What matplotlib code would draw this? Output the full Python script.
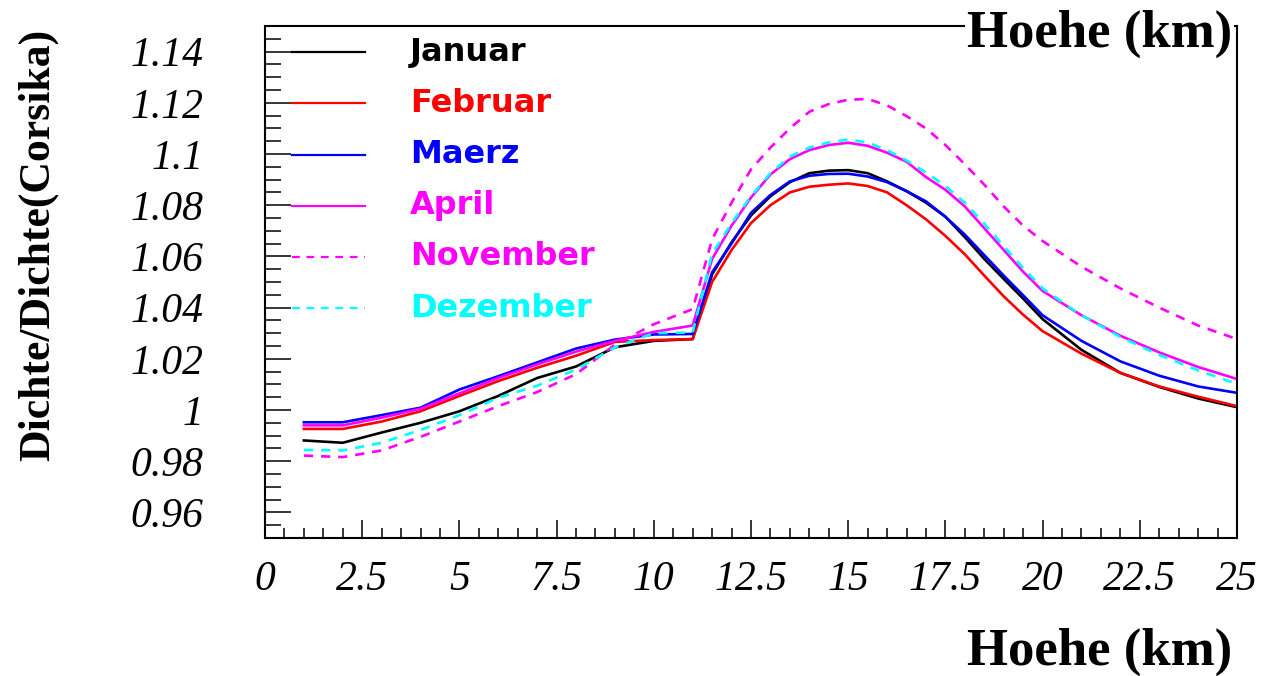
import matplotlib
matplotlib.use("Agg")
import matplotlib.pyplot as plt
from matplotlib.ticker import MultipleLocator, FuncFormatter

# Hoehe (km) stuetzstellen
hoehe = [1, 2, 3, 4, 5, 6, 7, 8, 9, 10, 11, 11.5, 12, 12.5, 13, 13.5, 14, 14.5,
         15, 15.5, 16, 16.5, 17, 17.5, 18, 18.5, 19, 19.5, 20, 21, 22, 23, 24, 25]

# Dichte/Dichte(Corsika) pro Monat
januar = [0.9881, 0.9872, 0.9912, 0.9950, 0.9995, 1.0055, 1.0125, 1.0170, 1.0245, 1.0270, 1.0277,
          1.0530, 1.0655, 1.0760, 1.0835, 1.0890, 1.0925, 1.0935,
          1.0937, 1.0925, 1.0893, 1.0855, 1.0810, 1.0755, 1.0675, 1.0590, 1.0512, 1.0435,
          1.0355, 1.0235, 1.0145, 1.0090, 1.0045, 1.0011]
februar = [0.9926, 0.9926, 0.9955, 0.9995, 1.0055, 1.0113, 1.0165, 1.0212, 1.0266, 1.0273, 1.0277,
           1.0500, 1.0625, 1.0730, 1.0800, 1.0850, 1.0872, 1.0880,
           1.0885, 1.0875, 1.0850, 1.0800, 1.0745, 1.0680, 1.0608, 1.0525, 1.0444, 1.0372,
           1.0308, 1.0220, 1.0145, 1.0092, 1.0052, 1.0015]
maerz = [0.9952, 0.9952, 0.9980, 1.0009, 1.0080, 1.0132, 1.0186, 1.0240, 1.0275, 1.0295, 1.0297,
         1.0538, 1.0650, 1.0770, 1.0840, 1.0893, 1.0915, 1.0922,
         1.0923, 1.0912, 1.0890, 1.0855, 1.0815, 1.0755, 1.0685, 1.0605, 1.0525, 1.0448,
         1.0370, 1.0270, 1.0190, 1.0134, 1.0092, 1.0067]
april = [0.9940, 0.9940, 0.9970, 1.0005, 1.0065, 1.0125, 1.0178, 1.0228, 1.0270, 1.0305, 1.0330,
         1.0590, 1.0720, 1.0830, 1.0920, 1.0980, 1.1015, 1.1035,
         1.1044, 1.1032, 1.1005, 1.0970, 1.0910, 1.0860, 1.0795, 1.0710, 1.0625, 1.0540,
         1.0465, 1.0370, 1.0290, 1.0225, 1.0168, 1.0121]
november = [0.9822, 0.9816, 0.9842, 0.9895, 0.9955, 1.0015, 1.0070, 1.0140, 1.0255, 1.0335, 1.0394,
            1.0667, 1.0810, 1.0940, 1.1025, 1.1100, 1.1165, 1.1195,
            1.1212, 1.1215, 1.1190, 1.1148, 1.1100, 1.1035, 1.0960, 1.0880, 1.0795, 1.0720,
            1.0660, 1.0560, 1.0475, 1.0400, 1.0330, 1.0277]
dezember = [0.9844, 0.9842, 0.9872, 0.9922, 0.9980, 1.0048, 1.0095, 1.0158, 1.0245, 1.0300, 1.0303,
            1.0610, 1.0730, 1.0835, 1.0925, 1.0990, 1.1025, 1.1045,
            1.1057, 1.1045, 1.1015, 1.0975, 1.0928, 1.0875, 1.0810, 1.0728, 1.0640, 1.0555,
            1.0475, 1.0370, 1.0285, 1.0215, 1.0155, 1.0102]

monate = ["Januar", "Februar", "Maerz", "April", "November", "Dezember"]
werte = [januar, februar, maerz, april, november, dezember]
farben = ["#000000", "#ff0000", "#0000ff", "#ff00ff", "#ff00ff", "#00ffff"]
stile = ["-", "-", "-", "-", (0, (3.5, 3)), (0, (3.5, 3))]

fig = plt.figure(figsize=(12.68, 6.76), dpi=100)
ax = fig.add_axes([265 / 1268, 1 - 538 / 676, 972 / 1268, 512 / 676])

for name, y, c, ls in zip(monate, werte, farben, stile):
    ax.plot(hoehe, y, color=c, linestyle=ls, lw=1.9)

ax.set_xlim(0, 25)
ax.set_ylim(0.95, 1.15)

# ROOT-artige achsen: ticks innen, nur links und unten
for s in ax.spines.values():
    s.set_linewidth(1.5)
ax.xaxis.set_major_locator(MultipleLocator(2.5))
ax.xaxis.set_minor_locator(MultipleLocator(0.5))
ax.yaxis.set_major_locator(MultipleLocator(0.02))
ax.yaxis.set_minor_locator(MultipleLocator(0.005))
ax.tick_params(axis="x", which="major", direction="in", length=13, width=1.1, pad=16)
ax.tick_params(axis="x", which="minor", direction="in", length=7.2, width=1.1)
ax.tick_params(axis="y", which="major", direction="in", length=18.7, width=1.1, pad=44)
ax.tick_params(axis="y", which="minor", direction="in", length=11.5, width=1.1)
ax.tick_params(top=False, right=False, which="both")

def fmt(v, pos):
    s = f"{v:.2f}".rstrip("0").rstrip(".")
    return s

ax.xaxis.set_major_formatter(FuncFormatter(fmt))
ax.yaxis.set_major_formatter(FuncFormatter(fmt))
for lab in ax.get_xticklabels() + ax.get_yticklabels():
    lab.set_fontfamily("Liberation Serif")
    lab.set_fontstyle("italic")
    lab.set_fontsize(30)

fig.text(38 / 1268, 1 - 245 / 676, "Dichte/Dichte(Corsika)", rotation=90,
         ha="center", va="center", fontfamily="Liberation Serif",
         fontweight="bold", fontsize=31.5)

fig.text(1232 / 1268, 1 - 652 / 676, "Hoehe (km)", ha="right", va="center",
         fontfamily="Liberation Serif", fontweight="bold", fontsize=38)
fig.text(1232 / 1268, 1 - 34 / 676, "Hoehe (km)", ha="right", va="center",
         fontfamily="Liberation Serif", fontweight="bold", fontsize=38,
         bbox=dict(facecolor="white", edgecolor="none", pad=1))

# legende von hand, wie im original
for i, (name, c, ls) in enumerate(zip(monate, farben, stile)):
    yy = 0.949 - 0.1 * i
    ax.plot([0.028, 0.103], [yy, yy], color=c, linestyle=ls, lw=1.6,
            transform=ax.transAxes)
    ax.text(0.149, yy, name, color=c, transform=ax.transAxes, va="center",
            ha="left", fontfamily="DejaVu Sans", fontweight="bold", fontsize=23)

fig.savefig("out.png", dpi=100)
